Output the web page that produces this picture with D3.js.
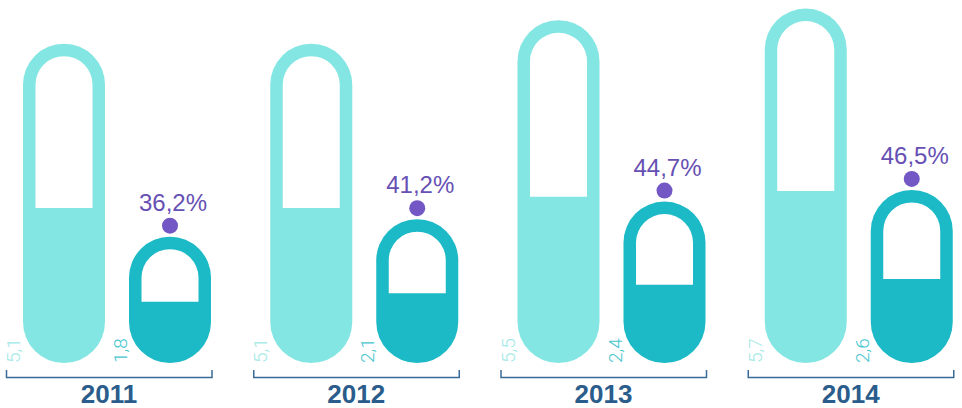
<!DOCTYPE html>
<html>
<head>
<meta charset="utf-8">
<script src="https://cdn.jsdelivr.net/npm/d3@7"></script>
<style>
	body { margin: 0; background: #fff; }
	svg { display: block; }
</style>
</head>
<body>
<svg></svg>
<script>
const years = ['2011', '2012', '2013', '2014'];
const totalValues = [5.1, 5.1, 5.5, 5.7];
const partValues = [1.8, 2.1, 2.4, 2.6];
const shareLabels = ['36,2%', '41,2%', '44,7%', '46,5%'];
const totalLabels = ['5,1', '5,1', '5,5', '5,7'];
const partLabels = ['1,8', '2,1', '2,4', '2,6'];

const width = 962;
const height = 408;
const base = 363;
const capW = 82;
const border = 12.5;
const fillShare = 0.485;

const svg = d3.select('svg')
	.attr('width', width)
	.attr('height', height);

// group bands, each one holds a bracket + two capsules
const x = d3.scaleBand()
	.domain(years)
	.range([6, 995]);

// capsule height from value
const h = d3.scaleLinear()
	.domain([0, 6])
	.range([21, 372]);

const rows = years.map((y, i) => ({
	year: y,
	total: totalValues[i],
	part: partValues[i],
	share: shareLabels[i],
	totalLabel: totalLabels[i],
	partLabel: partLabels[i]
}));

function innerPath(left, top, hgt) {
	const r = (capW - 2 * border) / 2;
	const xl = left + border;
	const xr = left + capW - border;
	const yf = base - hgt * fillShare;
	return `M${xl},${yf} L${xl},${top + border + r} A${r},${r} 0 0 1 ${xr},${top + border + r} L${xr},${yf} Z`;
}

const groups = svg.selectAll('g.year')
	.data(rows)
	.enter().append('g')
		.attr('class', 'year')
		.attr('transform', d => `translate(${x(d.year)},0)`);

// big capsule
groups.append('rect')
	.attr('x', 17)
	.attr('y', d => base - h(d.total))
	.attr('width', capW)
	.attr('height', d => h(d.total))
	.attr('rx', capW / 2)
	.attr('fill', '#84e6e3');
groups.append('path')
	.attr('d', d => innerPath(17, base - h(d.total), h(d.total)))
	.attr('fill', '#fff');

// small capsule
groups.append('rect')
	.attr('x', 123)
	.attr('y', d => base - h(d.part))
	.attr('width', capW)
	.attr('height', d => h(d.part))
	.attr('rx', capW / 2)
	.attr('fill', '#1cb9c7');
groups.append('path')
	.attr('d', d => innerPath(123, base - h(d.part), h(d.part)))
	.attr('fill', '#fff');

// dot + share label
groups.append('circle')
	.attr('cx', 123 + capW / 2)
	.attr('cy', d => base - h(d.part) - 11)
	.attr('r', 8)
	.attr('fill', '#7357c4');
groups.append('text')
	.attr('x', 123 + capW / 2 + 3)
	.attr('y', d => base - h(d.part) - 26)
	.attr('text-anchor', 'middle')
	.attr('font-family', 'Liberation Sans, Arial, sans-serif')
	.attr('font-size', 24)
	.attr('fill', '#6650b3')
	.text(d => d.share);

// rotated value labels
groups.append('text')
	.attr('transform', `translate(${17 - 3},${base}) rotate(-90)`)
	.attr('font-family', 'Roboto, Lato, sans-serif')
	.attr('font-weight', 300)
	.attr('font-size', 19)
	.attr('fill', '#9fe9e6')
	.text(d => d.totalLabel);
groups.append('text')
	.attr('transform', `translate(${123 - 2},${base}) rotate(-90)`)
	.attr('font-family', 'Roboto, Lato, sans-serif')
	.attr('font-weight', 300)
	.attr('font-size', 19)
	.attr('fill', '#45c5cf')
	.text(d => d.partLabel);

// bracket
groups.append('path')
	.attr('d', 'M0.5,370 L0.5,377.5 L206,377.5 L206,370')
	.attr('fill', 'none')
	.attr('stroke', '#3a6b98')
	.attr('stroke-width', 1.5);

groups.append('text')
	.attr('x', 103)
	.attr('y', 403)
	.attr('text-anchor', 'middle')
	.attr('font-family', 'Liberation Sans, Arial, sans-serif')
	.attr('font-weight', 'bold')
	.attr('font-size', 26)
	.attr('fill', '#2b5d8c')
	.text(d => d.year);
</script>
</body>
</html>
